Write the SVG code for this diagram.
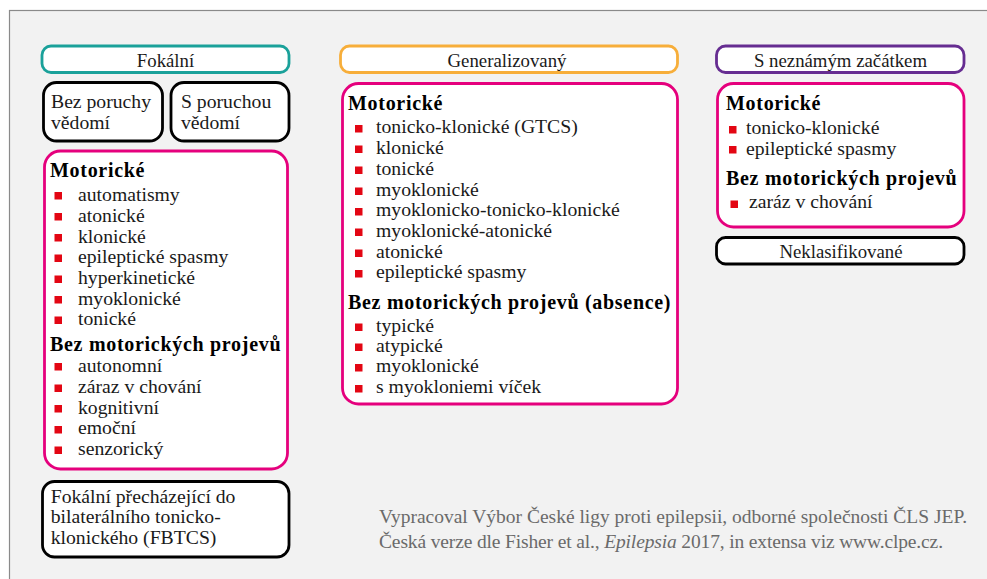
<svg xmlns="http://www.w3.org/2000/svg" width="987" height="579" viewBox="0 0 987 579">
<defs>
<style>
text{font-family:"Liberation Serif","Times New Roman",serif;fill:#1a1a1a}
.t{font-size:18.8px;text-anchor:middle}
.r{font-size:19.7px}
.b{font-size:20px;font-weight:bold;letter-spacing:0.7px;fill:#000}
.foot{font-size:19.5px;fill:#6a6a6a}
.box{fill:#fff;stroke-width:2.8}
.k{stroke:#000}
.p{stroke:#e5007d}
.bl{fill:#e30613}
</style>
</defs>
<rect x="0" y="0" width="987" height="579" fill="#fff"/>
<rect x="9.5" y="10.5" width="990" height="600" fill="#f2f2f2" stroke="#8a8a8a" stroke-width="1.2"/>

<g id="focal-title">
<rect class="box" x="42" y="46" width="247" height="26.5" rx="9" stroke="#1aa19a"/>
<text class="t" x="165.5" y="67">Fokální</text>
</g>
<g id="focal-aware">
<rect class="box k" x="43.5" y="82.5" width="119" height="58.5" rx="13"/>
<text class="r" x="51" y="108">Bez poruchy</text>
<text class="r" x="51" y="128.5">vědomí</text>
</g>
<g id="focal-impaired">
<rect class="box k" x="171" y="82.5" width="118" height="58.5" rx="13"/>
<text class="r" x="181" y="108">S poruchou</text>
<text class="r" x="181" y="128.5">vědomí</text>
</g>
<g id="focal-types">
<rect class="box p" x="44.5" y="151" width="243" height="318" rx="16"/>
<text class="b" x="50" y="177">Motorické</text>
<g class="bl">
<rect x="54.5" y="192" width="7.5" height="7.5"/>
<rect x="54.5" y="213" width="7.5" height="7.5"/>
<rect x="54.5" y="234" width="7.5" height="7.5"/>
<rect x="54.5" y="254.5" width="7.5" height="7.5"/>
<rect x="54.5" y="275.5" width="7.5" height="7.5"/>
<rect x="54.5" y="296" width="7.5" height="7.5"/>
<rect x="54.5" y="316.5" width="7.5" height="7.5"/>
<rect x="54.5" y="363" width="7.5" height="7.5"/>
<rect x="54.5" y="384.5" width="7.5" height="7.5"/>
<rect x="54.5" y="405" width="7.5" height="7.5"/>
<rect x="54.5" y="426" width="7.5" height="7.5"/>
<rect x="54.5" y="446.5" width="7.5" height="7.5"/>
</g>
<text class="r" x="78" y="200.7">automatismy</text>
<text class="r" x="78" y="221.7">atonické</text>
<text class="r" x="78" y="242.5">klonické</text>
<text class="r" x="78" y="263.3">epileptické spasmy</text>
<text class="r" x="78" y="284">hyperkinetické</text>
<text class="r" x="78" y="304.5">myoklonické</text>
<text class="r" x="78" y="325">tonické</text>
<text class="b" x="50" y="350.7">Bez motorických projevů</text>
<text class="r" x="78" y="371.7">autonomní</text>
<text class="r" x="78" y="393">záraz v chování</text>
<text class="r" x="78" y="413.5">kognitivní</text>
<text class="r" x="78" y="434.3">emoční</text>
<text class="r" x="78" y="455">senzorický</text>
</g>
<g id="focal-bilateral">
<rect class="box k" x="42.5" y="481.5" width="246.5" height="75.5" rx="12"/>
<text class="r" x="50.7" y="502.7">Fokální přecházející do</text>
<text class="r" x="50.7" y="523.3">bilaterálního tonicko-</text>
<text class="r" x="50.7" y="544">klonického (FBTCS)</text>
</g>

<g id="generalized-title">
<rect class="box" x="340.5" y="46" width="337" height="26.5" rx="9" stroke="#f7ae3a"/>
<text class="t" x="507" y="67">Generalizovaný</text>
</g>
<g id="generalized-types">
<rect class="box p" x="342.5" y="83.5" width="335" height="320.5" rx="16"/>
<text class="b" x="348" y="110">Motorické</text>
<g class="bl">
<rect x="355" y="125" width="7.5" height="7.5"/>
<rect x="355" y="145.5" width="7.5" height="7.5"/>
<rect x="355" y="166.5" width="7.5" height="7.5"/>
<rect x="355" y="187.5" width="7.5" height="7.5"/>
<rect x="355" y="208" width="7.5" height="7.5"/>
<rect x="355" y="228.5" width="7.5" height="7.5"/>
<rect x="355" y="249.5" width="7.5" height="7.5"/>
<rect x="355" y="270" width="7.5" height="7.5"/>
<rect x="355" y="323.5" width="7.5" height="7.5"/>
<rect x="355" y="343.5" width="7.5" height="7.5"/>
<rect x="355" y="364" width="7.5" height="7.5"/>
<rect x="355" y="385" width="7.5" height="7.5"/>
</g>
<text class="r" x="376" y="133.3">tonicko-klonické (GTCS)</text>
<text class="r" x="376" y="154">klonické</text>
<text class="r" x="376" y="175">tonické</text>
<text class="r" x="376" y="195.7">myoklonické</text>
<text class="r" x="376" y="216.3">myoklonicko-tonicko-klonické</text>
<text class="r" x="376" y="236.8">myoklonické-atonické</text>
<text class="r" x="376" y="257.6">atonické</text>
<text class="r" x="376" y="278.3">epileptické spasmy</text>
<text class="b" x="348" y="309">Bez motorických projevů (absence)</text>
<text class="r" x="376" y="331.5">typické</text>
<text class="r" x="376" y="351.5">atypické</text>
<text class="r" x="376" y="372">myoklonické</text>
<text class="r" x="376" y="393">s myokloniemi víček</text>
</g>

<g id="unknown-title">
<rect class="box" x="716.5" y="46" width="247.5" height="26.5" rx="9" stroke="#662d91"/>
<text class="t" x="840.5" y="67">S neznámým začátkem</text>
</g>
<g id="unknown-types">
<rect class="box p" x="717.5" y="83.5" width="246.5" height="143.5" rx="16"/>
<text class="b" x="726" y="109.5">Motorické</text>
<g class="bl">
<rect x="729" y="126" width="7.5" height="7.5"/>
<rect x="729" y="146" width="7.5" height="7.5"/>
<rect x="730.5" y="200.5" width="7.5" height="7.5"/>
</g>
<text class="r" x="746" y="134">tonicko-klonické</text>
<text class="r" x="746" y="154.5">epileptické spasmy</text>
<text class="b" x="726" y="185">Bez motorických projevů</text>
<text class="r" x="749" y="208">zaráz v chování</text>
</g>
<g id="unclassified">
<rect class="box k" x="716.5" y="237.5" width="247.5" height="26.5" rx="9"/>
<text class="t" x="841" y="257.7">Neklasifikované</text>
</g>

<g id="footer">
<text class="foot" x="379" y="523.3" textLength="588" lengthAdjust="spacing">Vypracoval Výbor České ligy proti epilepsii, odborné společnosti ČLS JEP.</text>
<text class="foot" x="379" y="548.3" textLength="564" lengthAdjust="spacing">Česká verze dle Fisher et al., <tspan font-style="italic">Epilepsia</tspan> 2017, in extensa viz www.clpe.cz.</text>
</g>
<g id="connectors"/>
</svg>
